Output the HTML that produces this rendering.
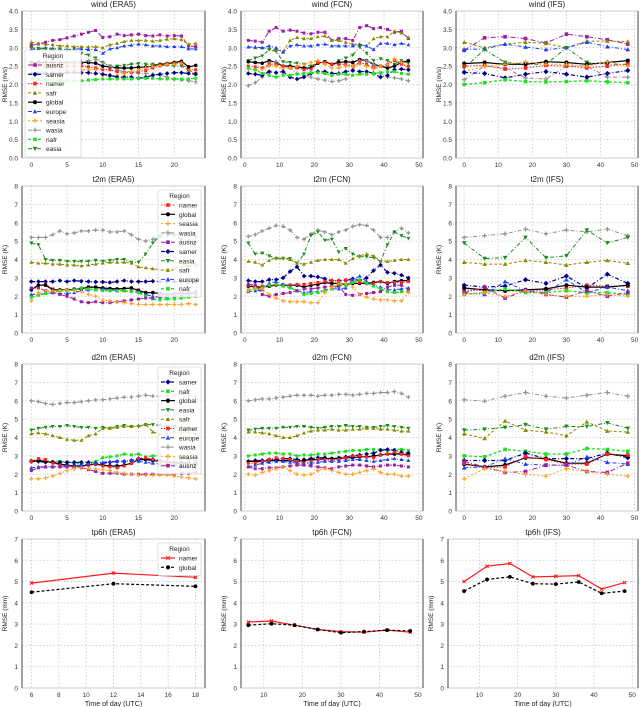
<!DOCTYPE html>
<html><head><meta charset="utf-8"><style>
html,body{margin:0;padding:0;background:#fff;}
svg{display:block;font-family:"Liberation Sans","DejaVu Sans",sans-serif;}
</style></head><body>
<svg id="fig" width="640" height="707" viewBox="0 0 640 707" xmlns="http://www.w3.org/2000/svg"></svg>
<script>
// ---------- data ----------
const regions = ["ausnz","samer","namer","safr","global","europe","seasia","wasia","nafr","easia"];
const xERA5 = [0,1,2,3,4,5,6,7,8,9,10,11,12,13,14,15,16,17,18,19,20,21,22,23];
const xFCN = [1,3,5,7,9,11,13,15,17,19,21,23,25,27,29,31,33,35,37,39,41,43,45,47];
const xIFS = [0,6,12,18,24,30,36,42,48];
const xTpERA5 = [6,12,18];
const xTp = [6,12,18,24,30,36,42,48];

const windERA5 = {
ausnz:[3.07,3.1,3.15,3.2,3.22,3.27,3.32,3.37,3.42,3.47,3.28,3.3,3.37,3.33,3.35,3.37,3.33,3.32,3.35,3.32,3.33,3.32,3.05,3.03],
safr:[3.15,3.12,3.1,3.08,3.05,3.05,3.03,3.03,3.02,3.03,3.0,3.08,3.12,3.17,3.2,3.2,3.2,3.18,3.2,3.23,3.25,3.22,3.1,3.12],
europe:[2.95,2.98,3.0,2.98,2.97,2.95,2.97,2.97,2.95,2.95,2.85,2.97,3.0,3.05,3.07,3.1,3.08,3.05,3.05,3.03,3.03,3.03,2.97,2.97],
easia:[3.0,2.98,2.97,2.95,2.93,2.93,2.93,2.85,2.8,2.72,2.6,2.5,2.5,2.52,2.55,2.57,2.55,2.55,2.53,2.52,2.5,2.5,2.4,2.3],
global:[2.6,2.6,2.6,2.6,2.6,2.6,2.6,2.6,2.6,2.58,2.5,2.48,2.45,2.45,2.45,2.47,2.47,2.5,2.55,2.57,2.6,2.63,2.48,2.52],
wasia:[2.5,2.5,2.5,2.5,2.55,2.58,2.6,2.62,2.65,2.68,2.6,2.5,2.4,2.35,2.35,2.3,2.3,2.28,2.25,2.2,2.15,2.12,2.1,2.07],
namer:[2.55,2.55,2.55,2.55,2.52,2.5,2.5,2.5,2.48,2.45,2.4,2.4,2.35,2.32,2.32,2.35,2.38,2.45,2.5,2.55,2.58,2.58,2.4,2.4],
seasia:[2.45,2.45,2.45,2.43,2.4,2.4,2.4,2.4,2.4,2.4,2.25,2.22,2.25,2.3,2.35,2.4,2.45,2.5,2.52,2.55,2.55,2.58,2.35,2.3],
samer:[2.3,2.3,2.3,2.3,2.3,2.33,2.33,2.32,2.32,2.3,2.28,2.25,2.2,2.2,2.2,2.17,2.2,2.25,2.28,2.3,2.32,2.32,2.3,2.28],
nafr:[2.15,2.13,2.12,2.12,2.1,2.1,2.1,2.1,2.12,2.13,2.15,2.15,2.15,2.15,2.15,2.17,2.17,2.17,2.15,2.15,2.15,2.15,2.15,2.17]};
const windFCN = {
ausnz:[3.2,3.18,3.15,3.45,3.55,3.45,3.48,3.45,3.4,3.38,3.42,3.42,3.2,3.25,3.25,3.2,3.55,3.6,3.52,3.55,3.5,3.42,3.45,3.25],
safr:[3.02,3.0,3.0,2.98,2.95,2.9,3.2,3.28,3.25,3.25,3.3,3.32,3.2,3.2,3.15,3.1,3.1,3.05,3.25,3.3,3.3,3.45,3.4,3.28],
europe:[3.02,3.02,3.0,3.05,3.0,2.88,3.05,3.08,3.05,3.05,3.08,3.1,3.05,3.05,3.05,3.05,3.08,3.05,2.95,3.12,3.12,3.08,3.12,3.08],
easia:[2.65,2.72,2.78,2.95,2.9,2.62,2.6,2.58,2.55,2.5,2.6,2.6,2.55,2.65,2.72,2.8,3.02,2.85,2.65,2.7,2.65,2.55,2.65,2.58],
global:[2.62,2.6,2.58,2.65,2.6,2.5,2.5,2.48,2.45,2.45,2.58,2.62,2.55,2.6,2.62,2.6,2.68,2.65,2.55,2.5,2.45,2.5,2.6,2.65],
wasia:[1.97,2.05,2.2,2.6,2.62,2.5,2.45,2.3,2.25,2.2,2.15,2.12,2.08,2.1,2.15,2.4,2.65,2.65,2.55,2.3,2.2,2.18,2.15,2.1],
namer:[2.5,2.48,2.45,2.55,2.55,2.5,2.45,2.45,2.4,2.42,2.6,2.6,2.55,2.55,2.55,2.5,2.6,2.55,2.45,2.5,2.55,2.65,2.55,2.5],
seasia:[2.42,2.4,2.42,2.5,2.5,2.42,2.45,2.5,2.55,2.6,2.65,2.55,2.45,2.45,2.5,2.5,2.55,2.5,2.42,2.5,2.55,2.7,2.6,2.42],
samer:[2.3,2.28,2.25,2.35,2.32,2.35,2.2,2.15,2.2,2.3,2.35,2.35,2.3,2.3,2.35,2.38,2.35,2.35,2.3,2.2,2.25,2.4,2.42,2.4],
nafr:[2.45,2.4,2.3,2.25,2.2,2.25,2.25,2.28,2.3,2.32,2.32,2.3,2.25,2.28,2.28,2.25,2.28,2.28,2.3,2.32,2.35,2.35,2.3,2.28]};
const windIFS = {
ausnz:[2.93,3.27,3.3,3.25,3.13,3.37,3.3,3.22,3.1],
safr:[3.15,3.0,3.1,3.15,3.12,3.0,3.18,3.18,3.17],
europe:[2.95,2.97,3.1,3.02,2.95,3.0,3.15,3.03,2.95],
easia:[2.45,2.95,2.6,2.55,2.55,3.0,2.6,2.55,2.55],
global:[2.57,2.6,2.55,2.55,2.62,2.6,2.55,2.6,2.65],
wasia:[2.13,2.5,2.45,2.18,2.15,2.5,2.5,2.2,2.2],
namer:[2.5,2.52,2.42,2.45,2.52,2.5,2.45,2.5,2.55],
seasia:[2.35,2.5,2.55,2.62,2.55,2.55,2.5,2.62,2.5],
samer:[2.33,2.3,2.18,2.28,2.35,2.28,2.2,2.3,2.38],
nafr:[2.0,2.05,2.13,2.08,2.07,2.08,2.1,2.07,2.05]};
const t2mERA5 = {
wasia:[5.2,5.2,5.2,5.35,5.55,5.4,5.45,5.55,5.55,5.6,5.6,5.5,5.5,5.55,5.35,5.1,5.0,5.1,5.2,5.3,5.4,5.35,5.3,5.2],
easia:[4.9,4.8,4.0,3.95,3.95,3.9,3.9,3.9,3.9,3.95,3.9,3.95,4.0,4.0,3.85,3.85,4.3,4.9,5.3,5.5,5.3,5.1,5.0,4.9],
safr:[3.85,3.8,3.8,3.75,3.75,3.7,3.7,3.65,3.7,3.75,3.8,3.85,3.85,3.85,3.8,3.6,3.55,3.5,3.45,3.5,3.55,3.6,3.65,3.7],
samer:[2.8,2.8,2.8,2.8,2.85,2.8,2.85,2.82,2.8,2.78,2.78,2.75,2.8,2.85,2.8,2.8,2.8,2.82,2.8,2.8,2.8,2.8,2.8,2.8],
namer:[2.4,2.6,2.65,2.4,2.3,2.3,2.4,2.45,2.5,2.45,2.4,2.35,2.35,2.4,2.45,2.35,2.2,2.2,2.15,2.1,2.15,2.2,2.25,2.2],
global:[2.35,2.6,2.6,2.35,2.35,2.35,2.38,2.4,2.5,2.5,2.45,2.42,2.4,2.42,2.45,2.3,2.2,2.2,2.15,2.1,2.1,2.15,2.15,2.15],
europe:[2.1,2.1,2.15,2.2,2.15,2.15,2.2,2.3,2.35,2.35,2.4,2.35,2.3,2.3,2.3,2.25,2.1,2.0,1.95,1.95,2.0,2.05,2.1,2.2],
nafr:[1.95,2.05,2.15,2.2,2.3,2.3,2.35,2.45,2.4,2.35,2.3,2.3,2.3,2.3,2.25,2.2,2.0,1.85,1.8,1.85,1.85,1.9,1.95,2.0],
ausnz:[2.45,2.45,2.3,2.2,2.1,2.0,1.85,1.7,1.65,1.7,1.65,1.65,1.7,1.75,1.8,1.85,1.9,1.9,2.0,2.1,2.1,2.15,2.2,2.25],
seasia:[1.75,2.2,2.3,2.3,2.3,2.35,2.3,2.25,2.1,2.0,1.8,1.75,1.7,1.65,1.6,1.55,1.55,1.55,1.55,1.55,1.55,1.55,1.6,1.55]};
const t2mFCN = {
wasia:[5.25,5.35,5.55,5.7,5.85,5.8,5.6,5.2,5.1,5.4,5.6,5.5,5.35,5.5,5.6,5.8,5.9,5.85,5.6,5.2,5.2,5.5,5.7,5.45],
easia:[4.9,4.3,4.35,4.2,4.05,4.05,4.05,3.8,4.3,5.3,5.5,5.05,5.1,4.4,4.6,4.3,4.15,4.15,4.1,3.9,4.8,5.5,5.3,5.15],
safr:[3.9,3.85,3.7,3.95,4.1,4.1,4.0,3.8,3.75,3.85,3.95,4.0,4.0,4.0,3.8,4.05,4.2,4.3,4.2,3.9,3.9,3.95,4.0,4.0],
samer:[2.85,2.8,2.8,2.9,2.9,3.0,3.35,3.6,3.1,3.1,3.05,2.95,2.85,2.85,2.85,2.95,2.85,3.0,3.4,3.7,3.3,3.25,3.15,3.0],
global:[2.55,2.5,2.5,2.55,2.6,2.6,2.6,2.6,2.5,2.6,2.65,2.75,2.7,2.7,2.65,2.7,2.7,2.7,2.75,2.8,2.7,2.8,2.85,2.85],
namer:[2.6,2.55,2.55,2.6,2.6,2.55,2.6,2.65,2.65,2.7,2.75,2.8,2.85,2.85,2.9,2.85,2.75,2.7,2.7,2.8,2.75,2.75,2.75,2.8],
europe:[2.25,2.3,2.35,2.7,2.8,2.65,2.5,2.3,2.2,2.25,2.25,2.35,2.4,2.4,2.45,2.9,3.1,2.8,2.6,2.5,2.35,2.35,2.4,2.45],
nafr:[2.35,2.4,2.45,2.6,2.65,2.55,2.45,2.3,2.1,2.15,2.2,2.3,2.4,2.55,2.6,2.75,2.9,2.7,2.55,2.4,2.25,2.2,2.25,2.25],
ausnz:[2.65,2.6,2.1,2.0,2.1,2.15,2.2,2.3,2.4,2.4,2.45,2.5,2.55,2.55,2.1,2.05,2.1,2.15,2.2,2.25,2.5,2.6,2.6,2.4],
seasia:[2.3,2.45,2.4,2.1,1.9,1.75,1.7,1.7,1.7,1.65,1.65,2.2,2.5,2.7,2.7,2.5,2.1,1.95,1.85,1.8,1.8,1.75,1.75,2.2]};
const t2mIFS = {
wasia:[5.2,5.3,5.4,5.65,5.4,5.6,5.5,5.65,5.3],
easia:[4.9,4.05,4.1,5.2,4.1,4.2,5.6,4.9,5.2],
safr:[3.85,3.75,3.75,3.95,3.85,3.7,3.85,3.95,3.8],
samer:[2.6,2.5,2.55,2.9,2.7,3.1,2.45,3.2,2.7],
namer:[2.35,2.3,2.3,2.3,2.35,2.45,2.6,2.55,2.55],
global:[2.45,2.35,2.3,2.35,2.4,2.6,2.5,2.5,2.6],
europe:[2.2,2.1,2.8,2.3,2.2,2.9,2.2,2.5,2.3],
nafr:[2.1,2.2,2.4,2.2,2.2,2.3,2.2,2.2,2.1],
ausnz:[2.2,2.5,1.9,2.3,2.1,1.95,2.3,2.0,2.2],
seasia:[2.1,2.2,2.0,2.3,2.1,2.0,2.0,2.1,2.0]};
const d2mERA5 = {
wasia:[6.0,5.95,5.85,5.8,5.85,5.9,5.9,5.95,6.0,6.05,6.05,6.1,6.15,6.2,6.2,6.25,6.3,6.25,6.25,6.3,6.3,6.35,6.25,6.2],
easia:[4.4,4.5,4.55,4.6,4.6,4.65,4.6,4.55,4.55,4.5,4.55,4.5,4.6,4.65,4.6,4.6,4.7,4.7,4.65,4.6,4.6,4.55,4.5,4.5],
safr:[4.2,4.25,4.2,4.1,4.0,3.9,3.85,3.85,4.1,4.2,4.5,4.5,4.55,4.6,4.6,4.65,4.7,4.3,4.2,4.2,4.3,4.3,4.3,4.2],
nafr:[2.75,2.75,2.7,2.7,2.7,2.65,2.6,2.55,2.6,2.7,2.9,2.95,3.0,3.1,3.05,3.1,2.95,3.0,3.0,2.95,2.9,2.85,2.8,2.75],
samer:[2.7,2.7,2.65,2.65,2.65,2.65,2.65,2.65,2.65,2.6,2.6,2.65,2.7,2.7,2.75,2.85,2.85,2.8,2.75,2.7,2.65,2.65,2.6,2.6],
global:[2.7,2.75,2.7,2.65,2.55,2.5,2.45,2.45,2.5,2.55,2.5,2.45,2.45,2.5,2.6,2.8,2.8,2.75,2.7,2.65,2.6,2.6,2.55,2.5],
namer:[2.7,2.85,2.8,2.6,2.5,2.45,2.4,2.4,2.5,2.55,2.45,2.4,2.35,2.45,2.6,2.85,2.9,2.8,2.7,2.65,2.6,2.55,2.55,2.5],
europe:[2.35,2.4,2.4,2.4,2.45,2.45,2.45,2.5,2.55,2.6,2.65,2.7,2.7,2.7,2.75,2.7,2.65,2.6,2.55,2.5,2.45,2.45,2.4,2.35],
ausnz:[2.2,2.35,2.4,2.4,2.4,2.4,2.4,2.35,2.25,2.15,2.05,2.05,2.05,2.0,2.0,2.0,2.0,2.0,2.0,2.0,2.0,2.05,2.05,2.1],
seasia:[1.75,1.75,1.8,1.9,2.05,2.2,2.3,2.35,2.3,2.3,2.25,2.2,2.1,2.05,2.0,1.95,1.95,1.95,1.95,1.95,1.9,1.85,1.8,1.75]};
const d2mFCN = {
wasia:[6.0,6.05,6.1,6.1,6.15,6.2,6.25,6.3,6.3,6.3,6.25,6.3,6.3,6.35,6.35,6.3,6.35,6.4,6.4,6.45,6.45,6.5,6.4,6.2],
easia:[4.4,4.45,4.5,4.5,4.5,4.55,4.55,4.6,4.6,4.55,4.5,4.55,4.6,4.6,4.65,4.6,4.6,4.55,4.55,4.6,4.65,4.6,4.55,4.5],
safr:[4.3,4.3,4.25,4.2,4.1,4.0,4.0,4.1,4.25,4.35,4.4,4.4,4.45,4.4,4.4,4.45,4.45,4.5,4.5,4.45,4.45,4.4,4.35,4.35],
nafr:[3.0,3.05,3.1,3.15,3.15,3.1,3.1,3.0,3.05,3.05,3.1,3.1,3.15,3.2,3.25,3.3,3.3,3.35,3.35,3.35,3.3,3.35,3.35,3.3],
samer:[2.7,2.75,2.75,2.8,2.8,2.85,2.85,2.8,2.8,2.85,2.9,2.9,2.85,2.9,2.95,3.0,3.05,3.1,3.15,3.3,3.35,3.3,3.2,3.15],
global:[2.7,2.7,2.7,2.75,2.75,2.75,2.75,2.7,2.75,2.8,2.8,2.85,2.85,2.85,2.9,2.9,2.95,2.95,3.0,3.05,3.1,3.1,3.1,3.05],
namer:[2.6,2.6,2.7,2.8,2.9,2.85,2.8,2.7,2.6,2.7,2.8,2.8,2.75,2.8,2.9,3.0,3.0,2.95,2.9,3.05,3.1,3.2,3.1,3.0],
europe:[2.4,2.5,2.6,2.65,2.7,2.7,2.65,2.6,2.55,2.6,2.65,2.7,2.7,2.7,2.75,2.8,2.8,2.75,2.7,2.75,2.8,2.85,2.8,2.75],
ausnz:[2.4,2.3,2.3,2.35,2.35,2.4,2.45,2.5,2.5,2.45,2.4,2.35,2.3,2.4,2.45,2.5,2.5,2.45,2.4,2.45,2.5,2.5,2.45,2.4],
seasia:[2.0,1.95,2.1,2.2,2.3,2.4,2.2,2.0,1.95,2.0,2.2,2.3,2.2,2.1,2.0,2.0,2.1,2.2,2.3,2.1,2.0,2.0,1.9,1.9]};
const d2mIFS = {
wasia:[6.05,5.98,6.25,6.45,6.25,6.15,6.3,6.45,6.25],
easia:[4.4,4.45,4.55,4.7,4.45,4.6,4.6,4.8,4.5],
safr:[4.2,3.95,4.9,4.4,4.3,4.1,4.85,4.35,4.3],
nafr:[3.0,2.95,3.35,3.25,3.1,3.1,3.4,3.35,3.25],
samer:[2.75,2.75,2.75,3.15,2.85,2.85,2.85,3.15,2.9],
global:[2.55,2.4,2.5,2.9,2.85,2.6,2.6,3.1,3.0],
namer:[2.6,2.35,2.4,2.95,2.8,2.55,2.55,3.1,3.05],
europe:[2.35,2.4,2.85,2.55,2.5,2.5,2.95,2.65,2.55],
ausnz:[2.7,2.4,2.1,2.15,2.5,2.5,2.15,2.1,2.6],
seasia:[1.75,2.3,2.15,2.0,1.9,2.3,2.15,2.0,1.9]};
const tpERA5 = {namer:[4.93,5.4,5.2], global:[4.5,4.9,4.78]};
const tpFCN = {namer:[3.1,3.15,2.95,2.75,2.65,2.62,2.72,2.62], global:[2.95,3.02,2.95,2.75,2.6,2.65,2.72,2.68]};
const tpIFS = {namer:[5.0,5.72,5.85,5.22,5.25,5.28,4.65,4.95], global:[4.55,5.1,5.22,4.9,4.88,4.98,4.45,4.55]};

const windTicks = ["0.0","0.5","1.0","1.5","2.0","2.5","3.0","3.5","4.0"];
const kTicks = ["0","1","2","3","4","5","6","7","8"];
const tpTicks = ["0","1","2","3","4","5","6","7"];
const era5XTicks = [0,5,10,15,20];
const fcnXTicks = [0,10,20,30,40,50];
const tpEraXTicks = [6,8,10,12,14,16,18];
const tpXTicks = [10,20,30,40,50];

const legWind = ["ausnz","samer","namer","safr","global","europe","seasia","wasia","nafr","easia"];
const legT2m = ["namer","global","seasia","wasia","ausnz","samer","easia","safr","europe","nafr"];
const legD2m = ["samer","nafr","global","easia","safr","namer","europe","wasia","seasia","ausnz"];
const legTp = ["namer","global"];

// ---------- styles ----------
const STY = {
ausnz:{c:"#9b1fa0",d:"5,2,1,2",m:"s",w:1},
samer:{c:"#00008b",d:"4,2,1,2",m:"D",w:1.2},
namer:{c:"#ff2020",d:"1.5,1.5",m:"s",w:1},
safr:{c:"#8b8b00",d:"3,2",m:"^",w:1},
global:{c:"#000000",d:"",m:"o",w:1.2},
europe:{c:"#2040ff",d:"4,2,1,2",m:"^",w:1},
seasia:{c:"#ffa020",d:"2,2",m:"+",w:1},
wasia:{c:"#909090",d:"4,2,1,2",m:"+",w:1},
nafr:{c:"#20e020",d:"3,2",m:"s",w:1.3},
easia:{c:"#1a8a1a",d:"4,2,1,2",m:"v",w:1}};
const TPSTY = {namer:{c:"#ff1a1a",d:"",m:"x",w:1.2}, global:{c:"#000",d:"3,2",m:"o",w:1.2}};

const svg = document.getElementById('fig');
const NS = "http://www.w3.org/2000/svg";
function mk(tag, attrs, parent){const e=document.createElementNS(NS,tag);for(const k in attrs)e.setAttribute(k,attrs[k]);(parent||svg).appendChild(e);return e;}

function marker(g, m, x, y, c, sz){
  let e;
  if(m==="s") e=mk('rect',{x:x-sz,y:y-sz,width:2*sz,height:2*sz,fill:c},g);
  else if(m==="o") e=mk('circle',{cx:x,cy:y,r:sz+0.3,fill:c},g);
  else if(m==="D") e=mk('path',{d:`M${x},${y-sz-0.8}L${x+sz+0.8},${y}L${x},${y+sz+0.8}L${x-sz-0.8},${y}Z`,fill:c},g);
  else if(m==="^") e=mk('path',{d:`M${x},${y-sz-0.5}L${x+sz+0.5},${y+sz}L${x-sz-0.5},${y+sz}Z`,fill:c},g);
  else if(m==="v") e=mk('path',{d:`M${x},${y+sz+0.5}L${x+sz+0.5},${y-sz}L${x-sz-0.5},${y-sz}Z`,fill:c},g);
  else if(m==="+") e=mk('path',{d:`M${x-sz-0.5},${y}H${x+sz+0.5}M${x},${y-sz-0.5}V${y+sz+0.5}`,stroke:c,'stroke-width':1.2},g);
  else if(m==="x") e=mk('path',{d:`M${x-sz},${y-sz}L${x+sz},${y+sz}M${x-sz},${y+sz}L${x+sz},${y-sz}`,stroke:c,'stroke-width':1},g);
  return e;
}

function panel(o){
  const g = mk('g',{});
  
  
  const sx = v => o.L + (v - o.xmin) / (o.xmax - o.xmin) * (o.R - o.L);
  const sy = v => o.B - v / o.ymax * (o.B - o.T);
  // grid
  o.yt.forEach((t,i)=>{const v=parseFloat(t);const y=sy(v);
    if(v>0 && v<o.ymax) mk('line',{x1:o.L,x2:o.R,y1:y,y2:y,stroke:'#c8c8c8','stroke-width':0.8,'stroke-dasharray':'1.5,2'},g);
    const tx=mk('text',{x:o.L-4,y:y+2.5,'font-size':6.5,'text-anchor':'end',fill:'#333'},g);tx.textContent=t;});
  o.xt.forEach(v=>{const x=sx(v);
    mk('line',{x1:x,x2:x,y1:o.T,y2:o.B,stroke:'#c8c8c8','stroke-width':0.8,'stroke-dasharray':'1.5,2'},g);
    const tx=mk('text',{x:x,y:o.B+9,'font-size':6.5,'text-anchor':'middle',fill:'#333'},g);tx.textContent=v;});
  mk('rect',{x:o.L,y:o.T,width:o.R-o.L,height:o.B-o.T,fill:'none',stroke:'#c0c0c0','stroke-width':0.8},g);
  mk('line',{x1:o.L,x2:o.L,y1:o.T,y2:o.B,stroke:'#666','stroke-width':1.2},g);
  mk('line',{x1:o.R,x2:o.R,y1:o.T,y2:o.B,stroke:'#666','stroke-width':1.2},g);
  const ti=mk('text',{x:(o.L+o.R)/2,y:o.T-4,'font-size':8,'text-anchor':'middle',fill:'#222'},g);ti.textContent=o.title;
  
  
  const yl=mk('text',{x:0,y:0,'font-size':6.5,'text-anchor':'middle',fill:'#222',transform:`translate(${o.L-15},${(o.T+o.B)/2}) rotate(-90)`},g);yl.textContent=o.ylab;
  
  
  if(o.xlab){const xl=mk('text',{x:(o.L+o.R)/2,y:o.B+18,'font-size':7,'text-anchor':'middle',fill:'#222'},g);xl.textContent=o.xlab;
    
    }
  const sty = o.sty || STY;
  Object.keys(o.data).forEach(r=>{
    const s=sty[r]; const vals=o.data[r];
    const sg=mk('g',{},g);
    
    
    const pts=vals.map((v,i)=>sx(o.x[i]).toFixed(1)+','+sy(v).toFixed(1)).join(' ');
    mk('polyline',{points:pts,fill:'none',stroke:s.c,'stroke-width':s.w,'stroke-dasharray':s.d},sg);
    vals.forEach((v,i)=>{const p=marker(sg,s.m,sx(o.x[i]),sy(v),s.c,o.ms||1.6);
      
      });
  });
  if(o.leg){
    const lg=mk('g',{},g);
    
    
    const [lx,ly,lw]=o.legPos; const rh=9.3; const h=14+o.leg.length*rh;
    mk('rect',{x:lx,y:ly,width:lw,height:h,fill:'#fff','fill-opacity':0.85,stroke:'#ccc','stroke-width':0.6,rx:1.5},lg);
    const hd=mk('text',{x:lx+lw/2,y:ly+8,'font-size':6.5,'text-anchor':'middle',fill:'#222'},lg);hd.textContent='Region';
    o.leg.forEach((r,i)=>{const s=sty[r];const yy=ly+15+i*rh;
      const e=mk('g',{},lg);
      
      
      mk('line',{x1:lx+3,x2:lx+17,y1:yy,y2:yy,stroke:s.c,'stroke-width':s.w,'stroke-dasharray':s.d},e);
      marker(e,s.m,lx+10,yy,s.c,1.8);
      const t=mk('text',{x:lx+21,y:yy+2.5,'font-size':6.5,fill:'#222'},e);t.textContent=r;});
  }
}

const cols=[{L:22,R:205},{L:241,R:423},{L:456,R:638}];
const rows=[{T:11,B:158},{T:186,B:333},{T:364,B:511},{T:539,B:688}];
const cx=[{xmin:-1.3,xmax:24.3,xt:era5XTicks,x:xERA5},{xmin:-1.1,xmax:51.2,xt:fcnXTicks,x:xFCN},{xmin:-2.4,xmax:51,xt:fcnXTicks,x:xIFS}];
const names=["ERA5","FCN","IFS"];
const vars=[
 {v:"wind",sets:[windERA5,windFCN,windIFS],ymax:4,yt:windTicks,ylab:"RMSE (m/s)",leg:legWind,legPos:[25,50,56]},
 {v:"t2m",sets:[t2mERA5,t2mFCN,t2mIFS],ymax:8,yt:kTicks,ylab:"RMSE (K)",leg:legT2m,legPos:[158,190,43]},
 {v:"d2m",sets:[d2mERA5,d2mFCN,d2mIFS],ymax:8,yt:kTicks,ylab:"RMSE (K)",leg:legD2m,legPos:[158,367,43]}];
vars.forEach((vv,ri)=>{
  [0,1,2].forEach(ci=>{
    panel({name:vv.v+'-'+names[ci].toLowerCase()+'-panel',title:`${vv.v} (${names[ci]})`,L:cols[ci].L,R:cols[ci].R,T:rows[ri].T,B:rows[ri].B,
      xmin:cx[ci].xmin,xmax:cx[ci].xmax,xt:cx[ci].xt,x:cx[ci].x,ymax:vv.ymax,yt:vv.yt,ylab:vv.ylab,data:vv.sets[ci],
      leg:ci===0?vv.leg:null,legPos:vv.legPos,ms:ci===2?1.8:1.5});
  });
});
panel({name:'tp6h-era5-panel',title:'tp6h (ERA5)',L:22,R:205,T:539,B:688,xmin:5.3,xmax:18.7,xt:tpEraXTicks,x:xTpERA5,ymax:7,yt:tpTicks,ylab:"RMSE (mm)",xlab:"Time of day (UTC)",data:tpERA5,sty:TPSTY,leg:legTp,legPos:[158,543,43],ms:1.6});
panel({name:'tp6h-fcn-panel',title:'tp6h (FCN)',L:241,R:423,T:539,B:688,xmin:4.1,xmax:51.3,xt:tpXTicks,x:xTp,ymax:7,yt:tpTicks,ylab:"RMSE (mm)",xlab:"Time of day (UTC)",data:tpFCN,sty:TPSTY,ms:1.6});
panel({name:'tp6h-ifs-panel',title:'tp6h (IFS)',L:448,R:638,T:539,B:688,xmin:1.8,xmax:51.5,xt:tpXTicks,x:xTp,ymax:7,yt:tpTicks,ylab:"RMSE (mm)",xlab:"Time of day (UTC)",data:tpIFS,sty:TPSTY,ms:1.6});
</script>
</body></html>
